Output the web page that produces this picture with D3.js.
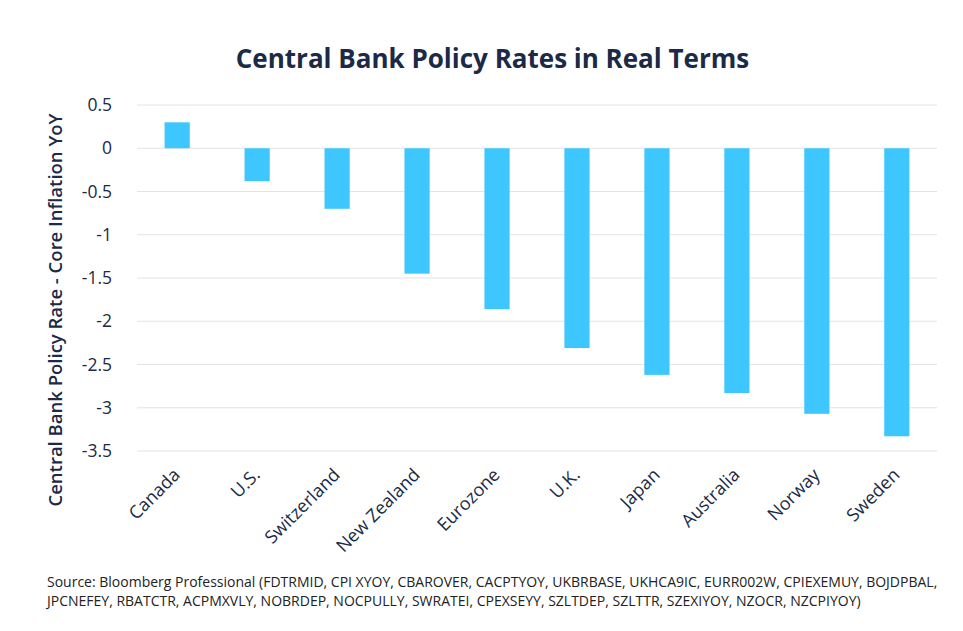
<!DOCTYPE html>
<html>
<head>
<meta charset="utf-8">
<script src="https://cdn.jsdelivr.net/npm/d3@7"></script>
<style>
  body { margin: 0; background: #fff; }
  svg { display: block; font-family: "Open Sans", Lato, sans-serif; }
</style>
</head>
<body>
<div id="chart"></div>
<script>
// ---- data ----
const countries = ["Canada", "U.S.", "Switzerland", "New Zealand", "Eurozone", "U.K.", "Japan", "Australia", "Norway", "Sweden"];
const realRates = [0.30, -0.38, -0.70, -1.45, -1.86, -2.31, -2.62, -2.83, -3.07, -3.33];
const yTicks = [0.5, 0, -0.5, -1, -1.5, -2, -2.5, -3, -3.5];
const sourceLines = [
    "Source: Bloomberg Professional (FDTRMID, CPI XYOY, CBAROVER, CACPTYOY, UKBRBASE, UKHCA9IC, EURR002W, CPIEXEMUY, BOJDPBAL,",
    "JPCNEFEY, RBATCTR, ACPMXVLY, NOBRDEP, NOCPULLY, SWRATEI, CPEXSEYY, SZLTDEP, SZLTTR, SZEXIYOY, NZOCR, NZCPIYOY)"
];

const data = countries.map((c, i) => ({ country: c, value: realRates[i] }));

const width = 963, height = 631;
const margin = { top: 105, right: 26, bottom: 180, left: 137 };
const textColor = "#1b2a47";
const font = "'Open Sans', sans-serif";

const svg = d3.select("#chart")
    .append("svg")
    .attr("width", width)
    .attr("height", height);

const x = d3.scaleBand()
    .domain(countries)
    .range([margin.left, width - margin.right])
    .paddingInner(0.685)
    .paddingOuter(0.345);

const y = d3.scaleLinear()
    .domain([0.5, -3.5])
    .range([margin.top, height - margin.bottom]);

// gridlines
svg.append("g")
    .selectAll("line")
    .data(yTicks)
    .join("line")
    .attr("x1", margin.left)
    .attr("x2", width - margin.right)
    .attr("y1", d => y(d))
    .attr("y2", d => y(d))
    .attr("stroke", "#e3e3e3")
    .attr("stroke-width", 1.2);

// y axis labels
const yAxis = svg.append("g")
    .attr("transform", `translate(${margin.left - 22},0)`)
    .call(d3.axisLeft(y).tickValues(yTicks).tickSize(0).tickFormat(d => d3.format("")(d).replace("−", "-")));
yAxis.select(".domain").remove();
yAxis.selectAll("text")
    .attr("fill", textColor)
    .attr("font-size", 17.5)
    .attr("font-family", font);

// bars
svg.append("g")
    .selectAll("rect")
    .data(data)
    .join("rect")
    .attr("x", d => x(d.country))
    .attr("width", x.bandwidth())
    .attr("y", d => y(Math.max(0, d.value)))
    .attr("height", d => Math.abs(y(d.value) - y(0)))
    .attr("fill", "#3ec7ff");

// x labels
svg.append("g")
    .selectAll("text")
    .data(countries)
    .join("text")
    .attr("transform", d => `translate(${x(d) + x.bandwidth() / 2 + 4},${height - margin.bottom + 25}) rotate(-45)`)
    .attr("text-anchor", "end")
    .attr("fill", textColor)
    .attr("font-size", 18)
    .text(d => d);

// y axis title
svg.append("text")
    .attr("transform", `translate(62,${(margin.top + height - margin.bottom) / 2 + 32}) rotate(-90)`)
    .attr("text-anchor", "middle")
    .attr("fill", textColor)
    .attr("font-size", 18.5)
    .attr("font-weight", 600)
    .text("Central Bank Policy Rate - Core Inflation YoY");

// title
svg.append("text")
    .attr("x", width / 2 + 11)
    .attr("y", 68)
    .attr("text-anchor", "middle")
    .attr("fill", textColor)
    .attr("font-size", 26)
    .attr("font-weight", 700)
    .text("Central Bank Policy Rates in Real Terms");

// source
svg.append("g")
    .selectAll("text")
    .data(sourceLines)
    .join("text")
    .attr("x", 47)
    .attr("y", (d, i) => 587 + i * 19)
    .attr("fill", "#222")
    .attr("font-size", 14)
    .text(d => d);
</script>
</body>
</html>
